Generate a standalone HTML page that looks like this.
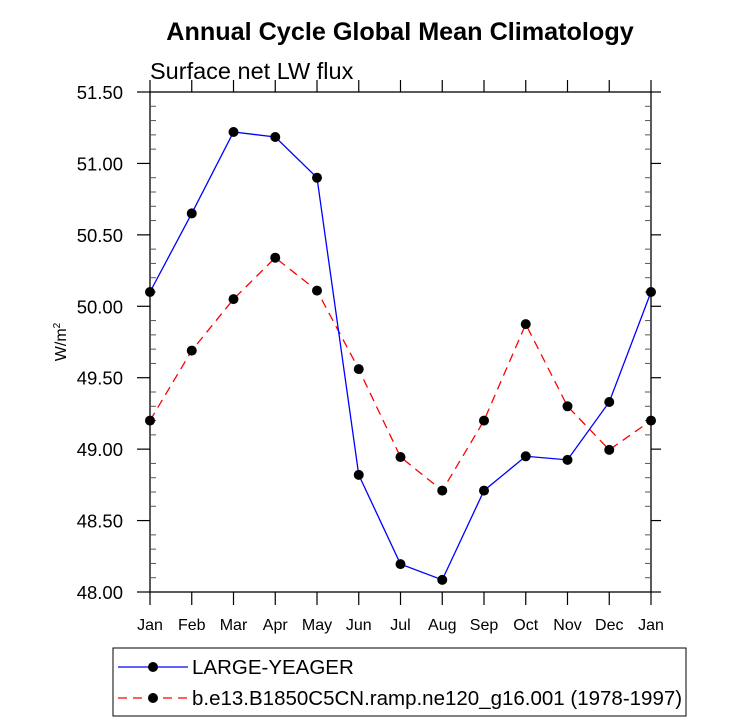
<!DOCTYPE html>
<html><head><meta charset="utf-8"><style>body{margin:0;background:#fff}svg{display:block;font-family:"Liberation Sans",sans-serif}</style></head>
<body>
<svg id="chart" width="733" height="722">
<text x="400" y="40" text-anchor="middle" font-size="25.2" font-weight="bold">Annual Cycle Global Mean Climatology</text>
<text x="150" y="79" font-size="23.5">Surface net LW flux</text>
<text transform="translate(66,342) rotate(-90)" text-anchor="middle" font-size="16">W/m<tspan dy="-6" font-size="10">2</tspan></text>
<g id="axes"></g>
<g id="series"></g>
<g>
<rect x="113" y="648" width="573" height="68" fill="none" stroke="#000" stroke-width="1"/>
<line x1="118" y1="667" x2="188" y2="667" stroke="#0000ff" stroke-width="1.3"/>
<circle cx="153" cy="667" r="5" fill="#000"/>
<text x="192" y="674" font-size="20.5">LARGE-YEAGER</text>
<line x1="118" y1="698" x2="188" y2="698" stroke="#ff0000" stroke-width="1.3" stroke-dasharray="9,6"/>
<circle cx="153" cy="698" r="5" fill="#000"/>
<text x="192" y="705" font-size="20.5">b.e13.B1850C5CN.ramp.ne120_g16.001 (1978-1997)</text>
</g>
</svg>
<script>
const months=["Jan","Feb","Mar","Apr","May","Jun","Jul","Aug","Sep","Oct","Nov","Dec","Jan"];
const largeYeager=[50.10,50.65,51.22,51.185,50.90,48.82,48.195,48.085,48.71,48.95,48.925,49.33,50.10];
const bE13=[49.20,49.69,50.05,50.34,50.11,49.56,48.945,48.71,49.20,49.875,49.30,48.995,49.20];
const yTicks=[48.00,48.50,49.00,49.50,50.00,50.50,51.00,51.50];
const NS="http://www.w3.org/2000/svg";
const L=150,R=651,T=92,B=592,ymin=48,ymax=51.5;
const xs=i=>L+i*(R-L)/(months.length-1);
const ys=v=>B-(v-ymin)/(ymax-ymin)*(B-T);
function mk(tag,at,parent){const e=document.createElementNS(NS,tag);for(const k in at)e.setAttribute(k,at[k]);parent.appendChild(e);return e;}
const ax=document.getElementById('axes');
const frame=mk('rect',{x:L,y:T,width:R-L,height:B-T,fill:'none',stroke:'#000','stroke-width':1.3},ax);


for(let v=ymin;v<=ymax+1e-6;v+=0.1){const y=ys(v);const maj=Math.abs((v*2)-Math.round(v*2))<1e-6;
if(maj){mk('line',{x1:L,y1:y,x2:L-13,y2:y,stroke:'#000','stroke-width':1.2},ax);
mk('line',{x1:R,y1:y,x2:R+10,y2:y,stroke:'#000','stroke-width':1.2},ax);}
else{mk('line',{x1:L,y1:y,x2:L+6,y2:y,stroke:'#555','stroke-width':1},ax);
mk('line',{x1:R,y1:y,x2:R-6,y2:y,stroke:'#555','stroke-width':1},ax);}}
yTicks.forEach(v=>{const t=mk('text',{x:L-27,y:ys(v)+7,'text-anchor':'end','font-size':18.5},ax);t.textContent=v.toFixed(2);

});
months.forEach((m,i)=>{const x=xs(i);mk('line',{x1:x,y1:B,x2:x,y2:B+13,stroke:'#000','stroke-width':1.2},ax);
mk('line',{x1:x,y1:T,x2:x,y2:T-12,stroke:'#000','stroke-width':1.2},ax);
const t=mk('text',{x:x,y:B+38,'text-anchor':'middle','font-size':16},ax);t.textContent=m;

});
const sg=document.getElementById('series');
function draw(vals,color,dash,name){const g=mk('g',{},sg);


const p=mk('polyline',{points:vals.map((v,i)=>xs(i)+','+ys(v)).join(' '),fill:'none',stroke:color,'stroke-width':1.3},g);
if(dash)p.setAttribute('stroke-dasharray',dash);
vals.forEach((v,i)=>{const c=mk('circle',{cx:xs(i),cy:ys(v),r:5,fill:'#000'},g);

});}
draw(bE13,'#ff0000','9,6','series-b-e13');
draw(largeYeager,'#0000ff',null,'series-large-yeager');
</script>
</body></html>
